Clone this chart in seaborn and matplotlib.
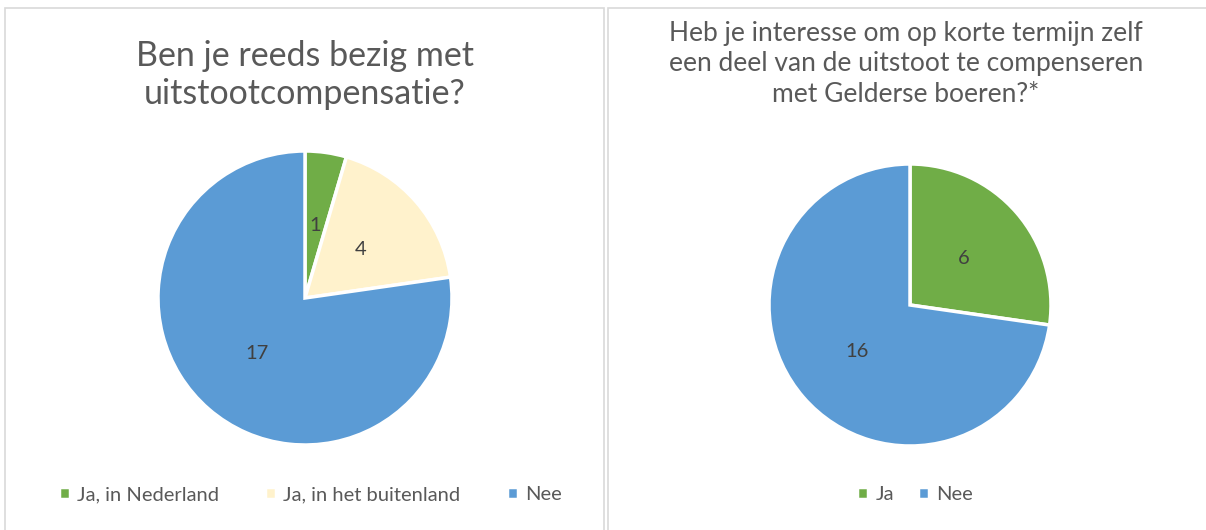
import matplotlib
matplotlib.use("Agg")
import matplotlib.pyplot as plt
import seaborn as sns
from matplotlib.patches import Rectangle

sns.set_theme(style="white")
plt.rcParams['font.family'] = ['Lato', 'DejaVu Sans']

# data
left_title = "Ben je reeds bezig met\nuitstootcompensatie?"
left_labels = ["Ja, in Nederland", "Ja, in het buitenland", "Nee"]
left_values = [1, 4, 17]
left_colors = ["#70AD47", "#FFF2CC", "#5B9BD5"]

right_title = "Heb je interesse om op korte termijn zelf\neen deel van de uitstoot te compenseren\nmet Gelderse boeren?*"
right_labels = ["Ja", "Nee"]
right_values = [6, 16]
right_colors = ["#70AD47", "#5B9BD5"]

W, H = 1206, 530
fig = plt.figure(figsize=(W / 100, H / 100), dpi=100)

def px_axes(x, y, w, h):
    return fig.add_axes([x / W, 1 - (y + h) / H, w / W, h / H])

# chart frames
for (x0, x1) in [(5, 604), (608, 1210)]:
    fig.patches.append(Rectangle((x0 / W, -0.01), (x1 - x0) / W, 1 - 8 / H + 0.01,
                                 transform=fig.transFigure, fill=False,
                                 edgecolor="#D9D9D9", linewidth=1.2))

def draw_pie(ax, values, colors):
    total = sum(values)
    wedges, _, autotexts = ax.pie(values, colors=colors, startangle=90, counterclock=False,
                                  autopct=lambda p: f"{round(p * total / 100)}",
                                  pctdistance=0.5,
                                  wedgeprops=dict(edgecolor="white", linewidth=2.5))
    for t in autotexts:
        t.set_color("#404040")
        t.set_fontsize(14.5)
    ax.set_xlim(-1.0, 1.0)
    ax.set_ylim(-1.0, 1.0)
    ax.set_aspect("equal")
    return wedges

# left pie
ax1 = px_axes(305 - 147, 298 - 147, 294, 294)
w1 = draw_pie(ax1, left_values, left_colors)
fig.text(305 / W, 1 - 75 / H, left_title, ha="center", va="center",
         fontsize=24.5, color="#595959", linespacing=1.25)
fig.legend(w1, left_labels, loc="center", bbox_to_anchor=(310 / W, 1 - 495 / H),
           ncol=3, frameon=False, fontsize=14.5, labelcolor="#595959",
           handlelength=0.55, handleheight=0.55, handletextpad=0.35, columnspacing=2.3)

# right pie
ax2 = px_axes(910 - 141, 305 - 141, 282, 282)
w2 = draw_pie(ax2, right_values, right_colors)
fig.text(906 / W, 1 - 64 / H, right_title, ha="center", va="center",
         fontsize=19, color="#595959", linespacing=1.25)
fig.legend(w2, right_labels, loc="center", bbox_to_anchor=(915 / W, 1 - 495 / H),
           ncol=2, frameon=False, fontsize=14.5, labelcolor="#595959",
           handlelength=0.55, handleheight=0.55, handletextpad=0.35, columnspacing=1.2)

fig.savefig("out.png", dpi=100, facecolor="white")
